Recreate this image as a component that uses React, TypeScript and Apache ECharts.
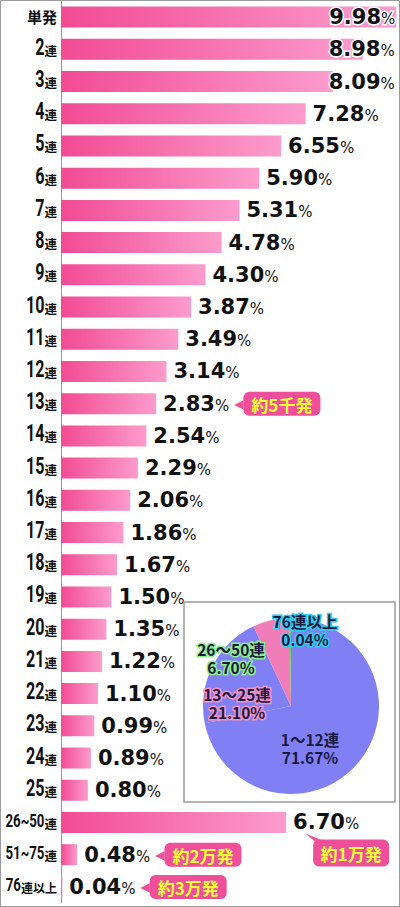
import React, { useEffect, useRef } from "react";
import * as echarts from "echarts";

const categories = [
  "単発", "2連", "3連", "4連", "5連", "6連", "7連", "8連", "9連", "10連",
  "11連", "12連", "13連", "14連", "15連", "16連", "17連", "18連", "19連", "20連",
  "21連", "22連", "23連", "24連", "25連", "26~50連", "51~75連", "76連以上",
];
const values = [
  9.98, 8.98, 8.09, 7.28, 6.55, 5.9, 5.31, 4.78, 4.3, 3.87,
  3.49, 3.14, 2.83, 2.54, 2.29, 2.06, 1.86, 1.67, 1.5, 1.35,
  1.22, 1.1, 0.99, 0.89, 0.8, 6.7, 0.48, 0.04,
];
const calloutCats = ["13連", "51~75連", "76連以上"];
const calloutTexts = ["約5千発", "約2万発", "約3万発"];
const belowCalloutCat = "26~50連";
const belowCalloutText = "約1万発";

const pieNames = ["1〜12連", "13〜25連", "26〜50連", "76連以上"];
const pieValues = [71.67, 21.1, 6.7, 0.04];
const pieColors = ["#8080f4", "#8080f4", "#f07cb8", "#5fd35f"];
const pieLabelBorders = ["transparent", "#f590c6", "#8ef08e", "#2ccdf0"];
// label block centres relative to the pie centre
const pieLabelRel = [
  [19, 42],
  [-54, -3],
  [-60, -48],
  [14, -76],
];

const topLabelOffsets: Record<string, number> = { "単発": -1, "2連": 32, "3連": 62 };

const PINK = "#ef4f9a";
const YELLOW = "#ffff33";
const CJK = '"Noto Sans CJK JP", sans-serif';
const NUM = "Roboto, sans-serif";
const PIE_CENTER = [291, 706];

function splitLabel(name: string) {
  if (name === "単発") return { num: "", kanji: "単発", numSize: 0, kSize: 15 };
  let m = name.match(/^(\d+)連$/);
  if (m) return { num: m[1], kanji: "連", numSize: 23, kSize: 12.5 };
  m = name.match(/^(\d+~\d+)連$/);
  if (m) return { num: m[1], kanji: "連", numSize: 19, kSize: 12.5 };
  m = name.match(/^(\d+)(連以上)$/);
  if (m) return { num: m[1], kanji: m[2], numSize: 19, kSize: 12 };
  return { num: "", kanji: name, numSize: 0, kSize: 13 };
}

export default function App() {
  const ref = useRef<HTMLDivElement>(null);
  useEffect(() => {
    document.body.style.margin = "0";
    if (!ref.current) return;
    const chart = echarts.init(ref.current, undefined, { renderer: "svg" });

    const barData = values.map((v, i) => {
      const name = categories[i];
      if (name in topLabelOffsets) {
        return {
          value: v,
          label: { position: "insideRight", distance: 0, offset: [topLabelOffsets[name], 0] },
        };
      }
      return { value: v };
    });

    const staticGraphic: any[] = [
      {
        id: "border",
        type: "rect",
        shape: { x: 0.5, y: 0.5, width: 399, height: 906 },
        style: { fill: "none", stroke: "#9a9a9a", lineWidth: 1 },
        z: 1,
        silent: true,
      },
      {
        id: "piebox",
        type: "rect",
        shape: { x: 184, y: 602, width: 211, height: 200 },
        style: { fill: "#fff", stroke: "#9c9c9c", lineWidth: 1.5 },
        z: 5,
        silent: true,
      },
    ];

    chart.setOption({
      animation: false,
      backgroundColor: "#fff",
      grid: { left: 61, right: 3, top: 1, bottom: 4, containLabel: false, outerBoundsMode: "none" },
      xAxis: { type: "value", min: 0, max: 10, show: false },
      yAxis: {
        type: "category",
        data: categories,
        inverse: true,
        axisLine: { show: true, lineStyle: { color: "#999", width: 1 } },
        axisTick: { show: false },
        axisLabel: { show: false },
      },
      series: [
        {
          type: "bar",
          data: barData,
          barWidth: 21,
          z: 2,
          itemStyle: {
            color: new echarts.graphic.LinearGradient(0, 0, 1, 0, [
              { offset: 0, color: "#f24b93" },
              { offset: 1, color: "#fc9ccc" },
            ]),
          },
          label: {
            show: true,
            position: "right",
            distance: 7,
            textBorderColor: "#fff",
            textBorderWidth: 3,
            formatter: (p: any) => {
              const v = values[p.dataIndex].toFixed(2);
              let s = `{v|${v}}{p|%}`;
              const ci = calloutCats.indexOf(p.name);
              if (ci >= 0) s += `{g|}{t|◀}{c|${calloutTexts[ci]}}`;
              return s;
            },
            rich: {
              v: { fontFamily: '"DejaVu Sans", sans-serif', fontWeight: "bold", fontSize: 21, color: "#111" },
              p: { fontFamily: '"DejaVu Sans", sans-serif', fontSize: 15, color: "#111", padding: [4, 0, 0, 0] },
              g: { width: 5 },
              t: { fontFamily: '"DejaVu Sans", sans-serif', fontSize: 12, color: PINK, textBorderWidth: 0 },
              c: {
                fontFamily: CJK,
                fontWeight: "bold",
                fontSize: 17,
                color: YELLOW,
                backgroundColor: PINK,
                borderRadius: 6,
                padding: [4, 8, 3, 8],
                textBorderWidth: 0,
              },
            },
          },
        },
        {
          type: "custom",
          z: 3,
          clip: false,
          silent: true,
          data: categories.map((c, i) => [0, i]),
          encode: { x: 0, y: 1 },
          renderItem: (params: any, api: any) => {
            const idx = api.value(1);
            const pt = api.coord([0, idx]);
            const name = categories[idx];
            const s = splitLabel(name);
            const right = pt[0] - 4;
            const children: any[] = [
              {
                type: "text",
                x: right,
                y: pt[1] + (s.num ? 1 : -1),
                style: {
                  text: s.kanji,
                  font: `bold ${s.kSize}px ${CJK}`,
                  fill: "#111",
                  align: "right",
                  verticalAlign: "middle",
                },
              },
            ];
            if (s.num) {
              children.push({
                type: "text",
                x: right - s.kSize * s.kanji.length,
                y: pt[1] - 2,
                scaleX: 0.7,
                style: {
                  text: s.num,
                  font: `bold ${s.numSize}px ${NUM}`,
                  fill: "#111",
                  align: "right",
                  verticalAlign: "middle",
                },
              });
            }
            return { type: "group", children };
          },
        },
        {
          type: "pie",
          z: 10,
          center: PIE_CENTER,
          radius: 88,
          startAngle: 90,
          clockwise: true,
          minAngle: 1,
          avoidLabelOverlap: false,
          silent: true,
          labelLine: { show: false },
          label: {
            show: true,
            position: "inside",
            fontFamily: CJK,
            fontWeight: "bold",
            fontSize: 15.5,
            lineHeight: 18,
            color: "#1a1a40",
            formatter: (p: any) => `${p.name}\n${pieValues[p.dataIndex].toFixed(2)}%`,
          },
          labelLayout: (params: any) => {
            const r = pieLabelRel[params.dataIndex] || [0, 0];
            return { x: PIE_CENTER[0] + r[0], y: PIE_CENTER[1] + r[1], align: "center", verticalAlign: "middle" };
          },
          data: pieNames.map((n, i) => ({
            name: n,
            value: pieValues[i],
            itemStyle: { color: pieColors[i] },
            label: {
              textBorderColor: pieLabelBorders[i],
              textBorderWidth: i === 0 ? 0 : 3,
            },
          })),
        },
      ],
      graphic: staticGraphic,
    });

    const idx = categories.indexOf(belowCalloutCat);
    const pt = chart.convertToPixel({ gridIndex: 0 }, [values[idx], idx]) as number[];
    if (pt && isFinite(pt[0])) {
      const bx = pt[0] + 27;
      const by = pt[1] + 17;
      chart.setOption({
        graphic: [
          ...staticGraphic,
          {
            id: "ptr",
            type: "polygon",
            z: 20,
            shape: {
              points: [
                [pt[0] + 19, pt[1] + 11],
                [bx + 2, by + 2],
                [bx + 12, by + 2],
              ],
            },
            style: { fill: PINK },
            silent: true,
          },
          {
            id: "cbox",
            type: "rect",
            z: 20,
            shape: { x: bx, y: by, width: 76, height: 27, r: 6 },
            style: { fill: PINK },
            silent: true,
          },
          {
            id: "ctext",
            type: "text",
            z: 21,
            x: bx + 38,
            y: by + 14,
            style: {
              text: belowCalloutText,
              fill: YELLOW,
              font: `bold 17px ${CJK}`,
              align: "center",
              verticalAlign: "middle",
            },
            silent: true,
          },
        ],
      });
    }

    return () => chart.dispose();
  }, []);
  return <div ref={ref} style={{ width: 400, height: 907 }} />;
}
